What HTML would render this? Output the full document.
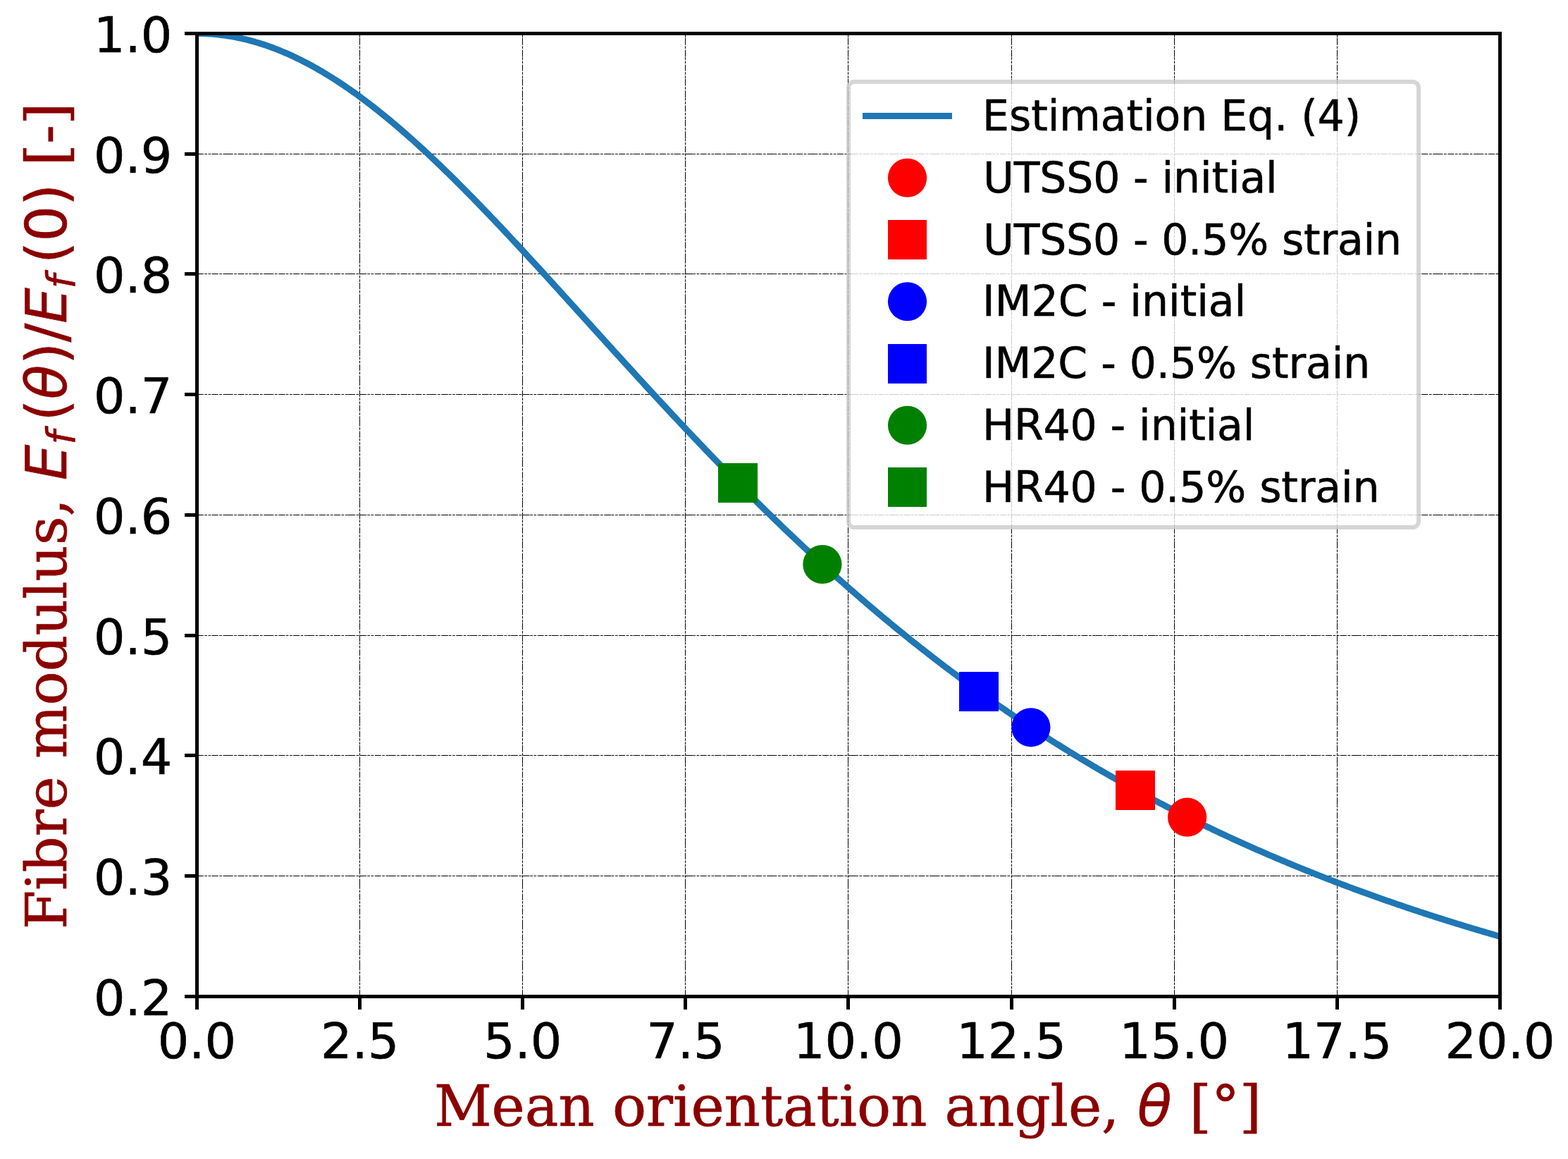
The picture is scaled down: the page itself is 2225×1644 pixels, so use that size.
<!DOCTYPE html><html><head><meta charset="utf-8"><title>Fibre modulus vs mean orientation angle</title>
<style>html,body{margin:0;padding:0;background:#fff;overflow:hidden}svg{display:block}text{white-space:pre;stroke-width:0.6px;stroke-linejoin:round}.tk{font-family:"DejaVu Sans","Liberation Sans",sans-serif;font-size:70px;fill:#000;stroke:#000}.lg{font-family:"DejaVu Sans","Liberation Sans",sans-serif;font-size:60px;fill:#000;stroke:#000}.sr{font-family:"DejaVu Serif","Liberation Serif",serif;fill:#8b0000;stroke:#8b0000}.mi{font-family:"DejaVu Sans","Liberation Sans",sans-serif;font-style:oblique;fill:#8b0000;stroke:#8b0000}.mr{font-family:"DejaVu Sans","Liberation Sans",sans-serif;fill:#8b0000;stroke:#8b0000}</style></head><body>
<svg width="2225" height="1644" viewBox="0 0 2225 1644">
<rect width="2225" height="1644" fill="#fff"/>
<defs><clipPath id="ax"><rect x="279.4" y="47.45" width="1849.10" height="1366.05"/></clipPath></defs>
<g stroke="#000" stroke-width="1" stroke-dasharray="3.68 1.57" stroke-dashoffset="4.895" fill="none">
<path d="M510.5 1413.5V47.45"/>
<path d="M741.5 1413.5V47.45"/>
<path d="M972.5 1413.5V47.45"/>
<path d="M1203.5 1413.5V47.45"/>
<path d="M1435.5 1413.5V47.45"/>
<path d="M1666.5 1413.5V47.45"/>
<path d="M1897.5 1413.5V47.45"/>
<path d="M279.4 1242.5H2128.5"/>
<path d="M279.4 1071.5H2128.5"/>
<path d="M279.4 901.5H2128.5"/>
<path d="M279.4 730.5H2128.5"/>
<path d="M279.4 559.5H2128.5"/>
<path d="M279.4 388.5H2128.5"/>
<path d="M279.4 218.5H2128.5"/>
</g>
<g stroke="#000" stroke-width="1" stroke-dasharray="7.28 12.01" stroke-dashoffset="17.42" fill="none">
<path d="M510.5 1413.5V47.45"/>
<path d="M741.5 1413.5V47.45"/>
<path d="M972.5 1413.5V47.45"/>
<path d="M1203.5 1413.5V47.45"/>
<path d="M1435.5 1413.5V47.45"/>
<path d="M1666.5 1413.5V47.45"/>
<path d="M1897.5 1413.5V47.45"/>
<path d="M279.4 1242.5H2128.5"/>
<path d="M279.4 1071.5H2128.5"/>
<path d="M279.4 901.5H2128.5"/>
<path d="M279.4 730.5H2128.5"/>
<path d="M279.4 559.5H2128.5"/>
<path d="M279.4 388.5H2128.5"/>
<path d="M279.4 218.5H2128.5"/>
</g>
<g clip-path="url(#ax)"><polyline points="279.40,47.45 282.18,47.46 284.96,47.50 287.73,47.57 290.51,47.67 293.29,47.79 296.07,47.94 298.84,48.12 301.62,48.33 304.40,48.56 307.18,48.82 309.95,49.11 312.73,49.42 315.51,49.76 318.29,50.13 321.06,50.53 323.84,50.95 326.62,51.40 329.40,51.88 332.17,52.38 334.95,52.92 337.73,53.47 340.51,54.06 343.29,54.67 346.06,55.31 348.84,55.97 351.62,56.66 354.40,57.38 357.17,58.13 359.95,58.90 362.73,59.70 365.51,60.52 368.28,61.37 371.06,62.24 373.84,63.14 376.62,64.07 379.39,65.03 382.17,66.00 384.95,67.01 387.73,68.04 390.50,69.09 393.28,70.17 396.06,71.28 398.84,72.41 401.62,73.57 404.39,74.75 407.17,75.95 409.95,77.18 412.73,78.44 415.50,79.71 418.28,81.02 421.06,82.34 423.84,83.69 426.61,85.07 429.39,86.47 432.17,87.89 434.95,89.34 437.72,90.81 440.50,92.30 443.28,93.81 446.06,95.35 448.83,96.91 451.61,98.50 454.39,100.10 457.17,101.73 459.95,103.38 462.72,105.06 465.50,106.75 468.28,108.47 471.06,110.21 473.83,111.97 476.61,113.75 479.39,115.55 482.17,117.37 484.94,119.22 487.72,121.08 490.50,122.97 493.28,124.87 496.05,126.80 498.83,128.74 501.61,130.71 504.39,132.69 507.16,134.70 509.94,136.72 512.72,138.76 515.50,140.83 518.28,142.91 521.05,145.01 523.83,147.12 526.61,149.26 529.39,151.41 532.16,153.59 534.94,155.77 537.72,157.98 540.50,160.21 543.27,162.45 546.05,164.71 548.83,166.98 551.61,169.27 554.38,171.58 557.16,173.91 559.94,176.25 562.72,178.61 565.49,180.98 568.27,183.37 571.05,185.77 573.83,188.19 576.61,190.62 579.38,193.07 582.16,195.54 584.94,198.01 587.72,200.51 590.49,203.01 593.27,205.53 596.05,208.06 598.83,210.61 601.60,213.17 604.38,215.74 607.16,218.33 609.94,220.93 612.71,223.54 615.49,226.17 618.27,228.80 621.05,231.45 623.82,234.11 626.60,236.78 629.38,239.47 632.16,242.16 634.94,244.87 637.71,247.58 640.49,250.31 643.27,253.05 646.05,255.80 648.82,258.56 651.60,261.32 654.38,264.10 657.16,266.89 659.93,269.69 662.71,272.49 665.49,275.31 668.27,278.13 671.04,280.97 673.82,283.81 676.60,286.66 679.38,289.52 682.15,292.39 684.93,295.26 687.71,298.14 690.49,301.03 693.27,303.93 696.04,306.84 698.82,309.75 701.60,312.67 704.38,315.59 707.15,318.52 709.93,321.46 712.71,324.41 715.49,327.36 718.26,330.31 721.04,333.28 723.82,336.24 726.60,339.22 729.37,342.20 732.15,345.18 734.93,348.17 737.71,351.16 740.48,354.16 743.26,357.16 746.04,360.17 748.82,363.18 751.60,366.19 754.37,369.21 757.15,372.23 759.93,375.26 762.71,378.29 765.48,381.32 768.26,384.36 771.04,387.40 773.82,390.44 776.59,393.48 779.37,396.53 782.15,399.58 784.93,402.63 787.70,405.68 790.48,408.74 793.26,411.80 796.04,414.86 798.81,417.92 801.59,420.98 804.37,424.04 807.15,427.11 809.93,430.17 812.70,433.24 815.48,436.31 818.26,439.38 821.04,442.45 823.81,445.52 826.59,448.59 829.37,451.66 832.15,454.73 834.92,457.80 837.70,460.87 840.48,463.94 843.26,467.01 846.03,470.08 848.81,473.14 851.59,476.21 854.37,479.28 857.14,482.35 859.92,485.41 862.70,488.48 865.48,491.54 868.26,494.60 871.03,497.66 873.81,500.72 876.59,503.78 879.37,506.83 882.14,509.89 884.92,512.94 887.70,515.99 890.48,519.03 893.25,522.08 896.03,525.12 898.81,528.16 901.59,531.20 904.36,534.24 907.14,537.27 909.92,540.30 912.70,543.33 915.47,546.35 918.25,549.37 921.03,552.39 923.81,555.41 926.58,558.42 929.36,561.43 932.14,564.43 934.92,567.44 937.70,570.43 940.47,573.43 943.25,576.42 946.03,579.41 948.81,582.39 951.58,585.37 954.36,588.35 957.14,591.32 959.92,594.29 962.69,597.25 965.47,600.21 968.25,603.16 971.03,606.12 973.80,609.06 976.58,612.00 979.36,614.94 982.14,617.87 984.91,620.80 987.69,623.72 990.47,626.64 993.25,629.56 996.03,632.46 998.80,635.37 1001.58,638.27 1004.36,641.16 1007.14,644.05 1009.91,646.93 1012.69,649.81 1015.47,652.68 1018.25,655.55 1021.02,658.42 1023.80,661.27 1026.58,664.12 1029.36,666.97 1032.13,669.81 1034.91,672.65 1037.69,675.48 1040.47,678.30 1043.24,681.12 1046.02,683.93 1048.80,686.74 1051.58,689.54 1054.36,692.33 1057.13,695.12 1059.91,697.91 1062.69,700.68 1065.47,703.45 1068.24,706.22 1071.02,708.98 1073.80,711.73 1076.58,714.48 1079.35,717.22 1082.13,719.96 1084.91,722.69 1087.69,725.41 1090.46,728.12 1093.24,730.83 1096.02,733.54 1098.80,736.24 1101.57,738.93 1104.35,741.61 1107.13,744.29 1109.91,746.96 1112.69,749.63 1115.46,752.29 1118.24,754.94 1121.02,757.58 1123.80,760.22 1126.57,762.86 1129.35,765.48 1132.13,768.10 1134.91,770.72 1137.68,773.32 1140.46,775.92 1143.24,778.52 1146.02,781.10 1148.79,783.68 1151.57,786.26 1154.35,788.82 1157.13,791.38 1159.90,793.94 1162.68,796.48 1165.46,799.02 1168.24,801.55 1171.02,804.08 1173.79,806.60 1176.57,809.11 1179.35,811.62 1182.13,814.12 1184.90,816.61 1187.68,819.10 1190.46,821.57 1193.24,824.05 1196.01,826.51 1198.79,828.97 1201.57,831.42 1204.35,833.86 1207.12,836.30 1209.90,838.73 1212.68,841.15 1215.46,843.57 1218.23,845.98 1221.01,848.38 1223.79,850.78 1226.57,853.17 1229.35,855.55 1232.12,857.93 1234.90,860.29 1237.68,862.66 1240.46,865.01 1243.23,867.36 1246.01,869.70 1248.79,872.03 1251.57,874.36 1254.34,876.68 1257.12,878.99 1259.90,881.30 1262.68,883.60 1265.45,885.89 1268.23,888.18 1271.01,890.46 1273.79,892.73 1276.56,894.99 1279.34,897.25 1282.12,899.50 1284.90,901.75 1287.68,903.99 1290.45,906.22 1293.23,908.44 1296.01,910.66 1298.79,912.87 1301.56,915.07 1304.34,917.27 1307.12,919.46 1309.90,921.64 1312.67,923.82 1315.45,925.99 1318.23,928.15 1321.01,930.30 1323.78,932.45 1326.56,934.60 1329.34,936.73 1332.12,938.86 1334.89,940.98 1337.67,943.10 1340.45,945.21 1343.23,947.31 1346.01,949.40 1348.78,951.49 1351.56,953.57 1354.34,955.65 1357.12,957.72 1359.89,959.78 1362.67,961.84 1365.45,963.88 1368.23,965.93 1371.00,967.96 1373.78,969.99 1376.56,972.01 1379.34,974.03 1382.11,976.04 1384.89,978.04 1387.67,980.04 1390.45,982.03 1393.22,984.01 1396.00,985.99 1398.78,987.96 1401.56,989.92 1404.34,991.88 1407.11,993.83 1409.89,995.77 1412.67,997.71 1415.45,999.64 1418.22,1001.57 1421.00,1003.49 1423.78,1005.40 1426.56,1007.30 1429.33,1009.20 1432.11,1011.10 1434.89,1012.99 1437.67,1014.87 1440.44,1016.74 1443.22,1018.61 1446.00,1020.47 1448.78,1022.33 1451.55,1024.18 1454.33,1026.02 1457.11,1027.86 1459.89,1029.69 1462.67,1031.51 1465.44,1033.33 1468.22,1035.15 1471.00,1036.95 1473.78,1038.75 1476.55,1040.55 1479.33,1042.34 1482.11,1044.12 1484.89,1045.89 1487.66,1047.66 1490.44,1049.43 1493.22,1051.19 1496.00,1052.94 1498.77,1054.69 1501.55,1056.43 1504.33,1058.16 1507.11,1059.89 1509.88,1061.61 1512.66,1063.33 1515.44,1065.04 1518.22,1066.75 1521.00,1068.45 1523.77,1070.14 1526.55,1071.83 1529.33,1073.51 1532.11,1075.19 1534.88,1076.86 1537.66,1078.52 1540.44,1080.18 1543.22,1081.83 1545.99,1083.48 1548.77,1085.12 1551.55,1086.76 1554.33,1088.39 1557.10,1090.02 1559.88,1091.63 1562.66,1093.25 1565.44,1094.86 1568.21,1096.46 1570.99,1098.06 1573.77,1099.65 1576.55,1101.24 1579.33,1102.82 1582.10,1104.39 1584.88,1105.96 1587.66,1107.53 1590.44,1109.09 1593.21,1110.64 1595.99,1112.19 1598.77,1113.73 1601.55,1115.27 1604.32,1116.80 1607.10,1118.33 1609.88,1119.85 1612.66,1121.37 1615.43,1122.88 1618.21,1124.38 1620.99,1125.88 1623.77,1127.38 1626.54,1128.87 1629.32,1130.36 1632.10,1131.84 1634.88,1133.31 1637.66,1134.78 1640.43,1136.24 1643.21,1137.70 1645.99,1139.16 1648.77,1140.61 1651.54,1142.05 1654.32,1143.49 1657.10,1144.93 1659.88,1146.36 1662.65,1147.78 1665.43,1149.20 1668.21,1150.61 1670.99,1152.02 1673.76,1153.43 1676.54,1154.83 1679.32,1156.22 1682.10,1157.61 1684.87,1159.00 1687.65,1160.38 1690.43,1161.75 1693.21,1163.12 1695.99,1164.49 1698.76,1165.85 1701.54,1167.21 1704.32,1168.56 1707.10,1169.91 1709.87,1171.25 1712.65,1172.59 1715.43,1173.92 1718.21,1175.25 1720.98,1176.57 1723.76,1177.89 1726.54,1179.20 1729.32,1180.51 1732.09,1181.82 1734.87,1183.12 1737.65,1184.42 1740.43,1185.71 1743.20,1187.00 1745.98,1188.28 1748.76,1189.56 1751.54,1190.83 1754.32,1192.10 1757.09,1193.36 1759.87,1194.62 1762.65,1195.88 1765.43,1197.13 1768.20,1198.38 1770.98,1199.62 1773.76,1200.86 1776.54,1202.09 1779.31,1203.32 1782.09,1204.55 1784.87,1205.77 1787.65,1206.99 1790.42,1208.20 1793.20,1209.41 1795.98,1210.61 1798.76,1211.81 1801.53,1213.01 1804.31,1214.20 1807.09,1215.39 1809.87,1216.57 1812.65,1217.75 1815.42,1218.93 1818.20,1220.10 1820.98,1221.27 1823.76,1222.43 1826.53,1223.59 1829.31,1224.74 1832.09,1225.89 1834.87,1227.04 1837.64,1228.18 1840.42,1229.32 1843.20,1230.46 1845.98,1231.59 1848.75,1232.72 1851.53,1233.84 1854.31,1234.96 1857.09,1236.07 1859.86,1237.19 1862.64,1238.29 1865.42,1239.40 1868.20,1240.50 1870.98,1241.59 1873.75,1242.69 1876.53,1243.77 1879.31,1244.86 1882.09,1245.94 1884.86,1247.02 1887.64,1248.09 1890.42,1249.16 1893.20,1250.23 1895.97,1251.29 1898.75,1252.35 1901.53,1253.40 1904.31,1254.45 1907.08,1255.50 1909.86,1256.55 1912.64,1257.59 1915.42,1258.62 1918.19,1259.66 1920.97,1260.69 1923.75,1261.71 1926.53,1262.73 1929.31,1263.75 1932.08,1264.77 1934.86,1265.78 1937.64,1266.79 1940.42,1267.79 1943.19,1268.80 1945.97,1269.79 1948.75,1270.79 1951.53,1271.78 1954.30,1272.77 1957.08,1273.75 1959.86,1274.73 1962.64,1275.71 1965.41,1276.68 1968.19,1277.66 1970.97,1278.62 1973.75,1279.59 1976.52,1280.55 1979.30,1281.50 1982.08,1282.46 1984.86,1283.41 1987.64,1284.36 1990.41,1285.30 1993.19,1286.24 1995.97,1287.18 1998.75,1288.12 2001.52,1289.05 2004.30,1289.98 2007.08,1290.90 2009.86,1291.82 2012.63,1292.74 2015.41,1293.66 2018.19,1294.57 2020.97,1295.48 2023.74,1296.38 2026.52,1297.29 2029.30,1298.19 2032.08,1299.08 2034.85,1299.98 2037.63,1300.87 2040.41,1301.76 2043.19,1302.64 2045.97,1303.52 2048.74,1304.40 2051.52,1305.28 2054.30,1306.15 2057.08,1307.02 2059.85,1307.88 2062.63,1308.75 2065.41,1309.61 2068.19,1310.47 2070.96,1311.32 2073.74,1312.17 2076.52,1313.02 2079.30,1313.87 2082.07,1314.71 2084.85,1315.55 2087.63,1316.39 2090.41,1317.22 2093.18,1318.06 2095.96,1318.89 2098.74,1319.71 2101.52,1320.53 2104.30,1321.36 2107.07,1322.17 2109.85,1322.99 2112.63,1323.80 2115.41,1324.61 2118.18,1325.42 2120.96,1326.22 2123.74,1327.02 2126.52,1327.82 2129.29,1328.62 2132.07,1329.41 2134.85,1330.20 2137.63,1330.99 2140.40,1331.77 2143.18,1332.55 2145.96,1333.33 2148.74,1334.11 2151.51,1334.89 2154.29,1335.66 2157.07,1336.43 2159.85,1337.19 2162.63,1337.96 2165.40,1338.72 2168.18,1339.48 2170.96,1340.23 2173.74,1340.99 2176.51,1341.74 2179.29,1342.49 2182.07,1343.23 2184.85,1343.98 2187.62,1344.72 2190.40,1345.46 2193.18,1346.19 2195.96,1346.93 2198.73,1347.66 2201.51,1348.39 2204.29,1349.11 2207.07,1349.84 2209.84,1350.56 2212.62,1351.28 2215.40,1351.99 2218.18,1352.71 2220.95,1353.42" fill="none" stroke="#1f77b4" stroke-width="9.0" stroke-linecap="square" stroke-linejoin="round"/></g>
<rect x="1583" y="1093" width="56" height="56" fill="#ff0000"/>
<rect x="1361" y="953" width="56" height="56" fill="#0000ff"/>
<rect x="1019" y="657" width="56" height="56" fill="#008000"/>
<circle cx="1684.6" cy="1159.2" r="27.6" fill="#ff0000"/>
<circle cx="1462.9" cy="1031.8" r="27.6" fill="#0000ff"/>
<circle cx="1166.9" cy="800.5" r="27.6" fill="#008000"/>
<g fill="#000">
<rect x="277" y="45" width="5" height="1371"/>
<rect x="2126" y="45" width="5" height="1371"/>
<rect x="277" y="45" width="1854" height="5"/>
<rect x="277" y="1411" width="1854" height="5"/>
<rect x="277.0" y="1411" width="5" height="21"/>
<rect x="508.0" y="1411" width="5" height="21"/>
<rect x="739.0" y="1411" width="5" height="21"/>
<rect x="970.0" y="1411" width="5" height="21"/>
<rect x="1201.0" y="1411" width="5" height="21"/>
<rect x="1433.0" y="1411" width="5" height="21"/>
<rect x="1664.0" y="1411" width="5" height="21"/>
<rect x="1895.0" y="1411" width="5" height="21"/>
<rect x="2126.0" y="1411" width="5" height="21"/>
<rect x="262" y="1411.0" width="17" height="5"/>
<rect x="262" y="1240.0" width="17" height="5"/>
<rect x="262" y="1069.0" width="17" height="5"/>
<rect x="262" y="899.0" width="17" height="5"/>
<rect x="262" y="728.0" width="17" height="5"/>
<rect x="262" y="557.0" width="17" height="5"/>
<rect x="262" y="386.0" width="17" height="5"/>
<rect x="262" y="216.0" width="17" height="5"/>
<rect x="262" y="45.0" width="17" height="5"/>
</g>
<text class="tk" x="279.40" y="1500.7" text-anchor="middle">0.0</text>
<text class="tk" x="510.54" y="1500.7" text-anchor="middle">2.5</text>
<text class="tk" x="741.67" y="1500.7" text-anchor="middle">5.0</text>
<text class="tk" x="972.81" y="1500.7" text-anchor="middle">7.5</text>
<text class="tk" x="1203.95" y="1500.7" text-anchor="middle">10.0</text>
<text class="tk" x="1435.09" y="1500.7" text-anchor="middle">12.5</text>
<text class="tk" x="1666.22" y="1500.7" text-anchor="middle">15.0</text>
<text class="tk" x="1897.36" y="1500.7" text-anchor="middle">17.5</text>
<text class="tk" x="2128.50" y="1500.7" text-anchor="middle">20.0</text>
<text class="tk" x="244.4" y="1439.90" text-anchor="end">0.2</text>
<text class="tk" x="244.4" y="1269.14" text-anchor="end">0.3</text>
<text class="tk" x="244.4" y="1098.39" text-anchor="end">0.4</text>
<text class="tk" x="244.4" y="927.63" text-anchor="end">0.5</text>
<text class="tk" x="244.4" y="756.87" text-anchor="end">0.6</text>
<text class="tk" x="244.4" y="586.12" text-anchor="end">0.7</text>
<text class="tk" x="244.4" y="415.36" text-anchor="end">0.8</text>
<text class="tk" x="244.4" y="244.61" text-anchor="end">0.9</text>
<text class="tk" x="244.4" y="73.85" text-anchor="end">1.0</text>
<rect x="1204.0" y="116.0" width="809.00" height="632.00" rx="8.5" ry="8.5" fill="#fff" stroke="#ccc" stroke-width="6" opacity="0.8"/>
<rect x="1224" y="160" width="127" height="9" fill="#1f77b4"/>
<text class="lg" x="1394.10" y="185.10" style="letter-spacing:-0.040px">Estimation Eq. (4)</text>
<circle cx="1287.5" cy="252.25" r="27.6" fill="#ff0000"/>
<text class="lg" x="1394.94" y="272.87" style="letter-spacing:-0.134px">UTSS0 - initial</text>
<rect x="1260" y="312" width="55" height="56" fill="#ff0000"/>
<text class="lg" x="1394.94" y="360.64" style="letter-spacing:-0.168px">UTSS0 - 0.5% strain</text>
<circle cx="1287.5" cy="427.75" r="27.6" fill="#0000ff"/>
<text class="lg" x="1394.10" y="448.41" style="letter-spacing:-0.010px">IM2C - initial</text>
<rect x="1260" y="488" width="55" height="56" fill="#0000ff"/>
<text class="lg" x="1393.94" y="536.18" style="letter-spacing:-0.078px">IM2C - 0.5% strain</text>
<circle cx="1287.5" cy="603.25" r="27.6" fill="#008000"/>
<text class="lg" x="1393.94" y="623.95" style="letter-spacing:-0.112px">HR40 - initial</text>
<rect x="1260" y="663" width="55" height="56" fill="#008000"/>
<text class="lg" x="1393.94" y="711.72" style="letter-spacing:-0.102px">HR40 - 0.5% strain</text>
<text class="sr" style="font-size:80px" y="1596.9" x="615.97 697.56 744.72 792.23 843.56 868.89 916.86 954.96 980.44 1027.60 1078.92 1110.95 1158.46 1190.48 1215.96 1263.94 1315.26 1340.59 1388.10 1439.43 1490.44 1515.92 1563.08 1588.41">Mean orientation angle, </text>
<text class="mi" style="font-size:80px" x="1613.74" y="1596.9">θ</text>
<text class="sr" style="font-size:80px" y="1596.9" x="1662.50 1687.83 1718.92 1758.76"> [°]</text>
<g transform="translate(94.4 1318.3) rotate(-90)">
<text class="sr" style="font-size:80px" y="0" x="0.00 55.29 80.77 131.78 169.86 217.02 242.35 317.90 365.87 416.88 468.20 493.68 545.00 585.89 611.22">Fibre modulus, </text>
<text class="mi" style="font-size:80px" x="637.10" y="0">E</text>
<text class="mi" style="font-size:56px" x="687.65" y="11.1">f</text>
<text class="mr" style="font-size:80px" x="720.55" y="0">(</text>
<text class="mi" style="font-size:80px" x="751.76" y="0">θ</text>
<text class="mr" style="font-size:80px" x="801.31" y="0">)</text>
<text class="mr" style="font-size:80px" x="832.92" y="0">/</text>
<text class="mi" style="font-size:80px" x="859.47" y="0">E</text>
<text class="mi" style="font-size:56px" x="908.92" y="11.1">f</text>
<text class="mr" style="font-size:80px" x="944.32" y="0">(</text>
<text class="mr" style="font-size:80px" x="975.53" y="0">0</text>
<text class="mr" style="font-size:80px" x="1026.43" y="0">)</text>
<text class="sr" style="font-size:80px" y="0" x="1057.64 1083.07 1114.28 1141.31"> [-]</text>
</g>
</svg></body></html>
